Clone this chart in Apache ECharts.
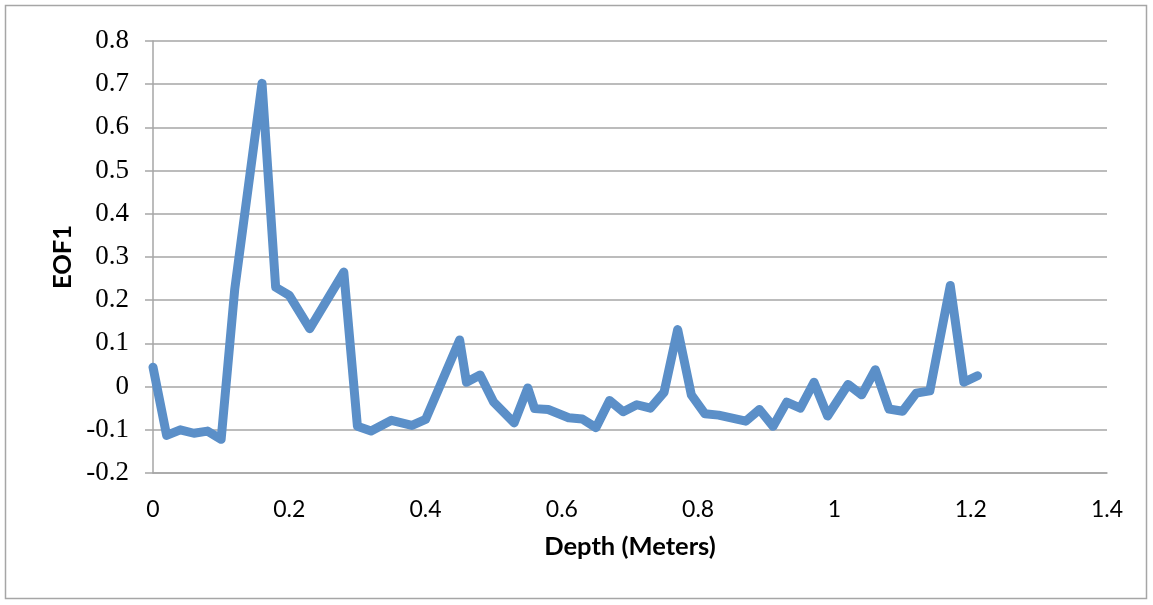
<!DOCTYPE html>
<html>
<head>
<meta charset="utf-8">
<script src="https://cdn.jsdelivr.net/npm/echarts@6/dist/echarts.min.js"></script>
<style>
html,body{margin:0;padding:0;background:#fff;}
#chart{width:1153px;height:605px;}
</style>
</head>
<body>
<div id="chart"></div>
<script>
// Depth (Meters)
const depth = [0, 0.02, 0.04, 0.06, 0.08, 0.10, 0.12, 0.16, 0.18, 0.20, 0.23, 0.28, 0.30, 0.32, 0.35, 0.38, 0.40, 0.45, 0.46, 0.48, 0.50, 0.53, 0.55, 0.56, 0.58, 0.61, 0.63, 0.65, 0.67, 0.69, 0.71, 0.73, 0.75, 0.77, 0.79, 0.81, 0.83, 0.87, 0.89, 0.91, 0.93, 0.95, 0.97, 0.99, 1.02, 1.04, 1.06, 1.08, 1.10, 1.12, 1.14, 1.17, 1.19, 1.21];
// EOF1
const eof1 = [0.045, -0.113, -0.100, -0.108, -0.103, -0.122, 0.226, 0.702, 0.230, 0.211, 0.134, 0.265, -0.092, -0.103, -0.078, -0.090, -0.076, 0.108, 0.010, 0.027, -0.036, -0.084, -0.003, -0.051, -0.053, -0.072, -0.075, -0.095, -0.032, -0.058, -0.042, -0.050, -0.013, 0.132, -0.019, -0.063, -0.066, -0.080, -0.053, -0.092, -0.036, -0.050, 0.010, -0.068, 0.005, -0.019, 0.039, -0.052, -0.057, -0.015, -0.010, 0.234, 0.010, 0.025];
const xAxisTitle = 'Depth (Meters)';
const yAxisTitle = 'EOF1';

const points = depth.map((d, i) => [d, eof1[i]]);
const chart = echarts.init(document.getElementById('chart'), null, {renderer: 'canvas'});
const fmt = v => String(Number(v.toFixed(1)));
chart.setOption({
  animation: false,
  backgroundColor: '#ffffff',
  graphic: [{
    type: 'rect', silent: true,
    shape: {x: 5.5, y: 5.5, width: 1141, height: 593},
    style: {fill: 'none', stroke: '#a6a6a6', lineWidth: 1.5}
  }],
  grid: {left: 153, right: 46, top: 41, bottom: 132, containLabel: false},
  xAxis: {
    type: 'value', min: 0, max: 1.4, interval: 0.2,
    name: xAxisTitle, nameLocation: 'middle', nameGap: 61,
    nameTextStyle: {fontFamily: 'Lato', fontWeight: 'bold', fontSize: 25.5, color: '#000'},
    axisLine: {show: true, onZero: false, lineStyle: {color: '#a6a6a6', width: 1.5}},
    axisTick: {show: false},
    splitLine: {show: false},
    axisLabel: {fontFamily: 'Lato', fontSize: 23, color: '#000', margin: 25, formatter: fmt}
  },
  yAxis: {
    type: 'value', min: -0.2, max: 0.8, interval: 0.1,
    name: yAxisTitle, nameLocation: 'middle', nameGap: 75, nameRotate: 90,
    nameTextStyle: {fontFamily: 'Lato', fontWeight: 'bold', fontSize: 25.5, color: '#000'},
    axisLine: {show: true, onZero: false, lineStyle: {color: '#a6a6a6', width: 1.5}},
    axisTick: {show: true, length: 8, lineStyle: {color: '#a6a6a6', width: 1.5}},
    splitLine: {show: true, lineStyle: {color: '#a6a6a6', width: 1.5}},
    axisLabel: {fontFamily: 'Liberation Serif', fontSize: 27, color: '#000', margin: 24, formatter: fmt}
  },
  series: [{
    type: 'line', data: points, showSymbol: false, symbol: 'none',
    lineStyle: {color: '#5b8fc8', width: 9, join: 'round', cap: 'round'},
    clip: false
  }]
});
</script>
</body>
</html>
